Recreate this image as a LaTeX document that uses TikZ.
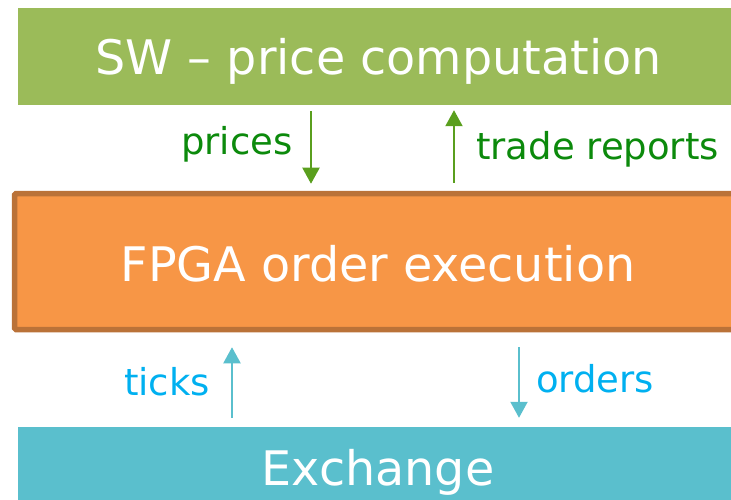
\documentclass[tikz,border=0pt]{standalone}
\usepackage{fontspec}
\setmainfont{DejaVu Sans}
\usetikzlibrary{arrows.meta}

\definecolor{swgreen}{HTML}{9BBB59}
\definecolor{fpgafill}{HTML}{F79646}
\definecolor{fpgaedge}{HTML}{BA7238}
\definecolor{exfill}{HTML}{5ABFCD}
\definecolor{greenarrow}{HTML}{5A9F1E}
\definecolor{greentext}{HTML}{0C8A0C}
\definecolor{cyanarrow}{HTML}{5ABFCD}
\definecolor{cyantext}{HTML}{00B0F0}

\tikzset{
  layerbox/.style={rectangle, inner sep=0pt, minimum width=720pt},
  title/.style={text=white, inner sep=0pt, font=\fontsize{47.6}{58}\selectfont},
  flowlabel/.style={inner sep=0pt, font=\fontsize{37}{44}\selectfont},
  swflow/.style={draw=greenarrow, line width=2pt,
    -{Triangle[width=17pt,length=16pt]}},
  exflow/.style={draw=cyanarrow, line width=2pt,
    -{Triangle[width=17pt,length=16pt]}},
}

\begin{document}
\begin{tikzpicture}[x=1pt,y=-1pt]
  \useasboundingbox (0,0) rectangle (731,500);
  \clip (0,0) rectangle (731,500);

  % the three layers
  \node[layerbox, fill=swgreen, minimum height=97pt] (sw) at (378,56.5) {};
  \node[layerbox, fill=fpgafill, draw=fpgaedge, line width=5.5pt,
        rounded corners=1.5pt, minimum width=727pt, minimum height=136pt]
        (fpga) at (378,261.5) {};
  \node[layerbox, fill=exfill, minimum height=100pt] (ex) at (378,477) {};

  \node[title, anchor=base] (swtext)   at (378.5,75)  {SW – price computation};
  \node[title, anchor=base] (fpgatext) at (378,281) {FPGA order execution};
  \node[title, anchor=base] (extext)   at (378,485) {Exchange};

  % columns of the four flows
  \coordinate (pricesx) at (311,0);
  \coordinate (tradex)  at (454,0);
  \coordinate (ticksx)  at (232,0);
  \coordinate (ordersx) at (519,0);

  \draw[swflow] ([yshift=-6pt]sw.south -| pricesx) -- ([yshift=7pt]fpga.north -| pricesx);
  \draw[swflow] ([yshift=8pt]fpga.north -| tradex) -- ([yshift=-5pt]sw.south -| tradex);
  \draw[exflow] ([yshift=9pt]ex.north -| ticksx) -- ([yshift=-15pt]fpga.south -| ticksx);
  \draw[exflow] ([yshift=-15pt]fpga.south -| ordersx) -- ([yshift=9pt]ex.north -| ordersx);

  \node[flowlabel, text=greentext, anchor=base west] (prices) at (181,155) {prices};
  \node[flowlabel, text=greentext, anchor=base west] (trade)  at (476,160) {trade reports};
  \node[flowlabel, text=cyantext, anchor=base west]  (ticks)  at (124,395) {ticks};
  \node[flowlabel, text=cyantext, anchor=base west]  (orders) at (536,392) {orders};
\end{tikzpicture}
\end{document}
